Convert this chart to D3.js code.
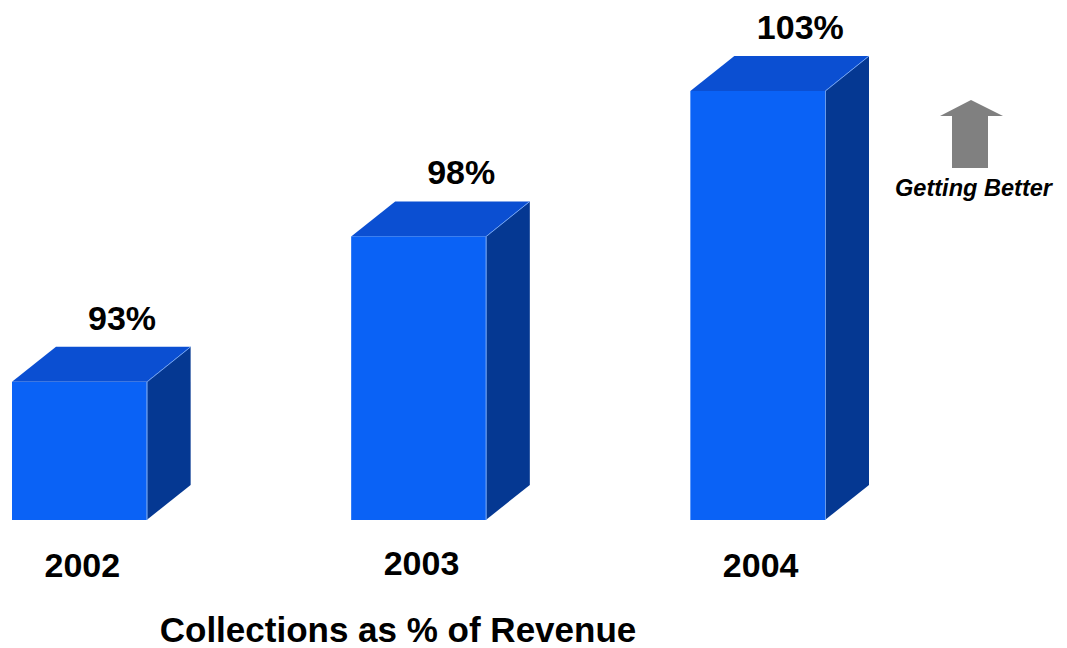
<!DOCTYPE html>
<html>
<head>
<meta charset="utf-8">
<script src="https://cdn.jsdelivr.net/npm/d3@7/dist/d3.min.js"></script>
<style>
  html, body { margin: 0; padding: 0; background: #ffffff; }
  svg { display: block; }
</style>
</head>
<body>
<svg id="chart" width="1067" height="648"></svg>
<script>
// Collections as a share of revenue, by year
const years = ["2002", "2003", "2004"];
const collectionPct = [93, 98, 103];
const valueLabels = ["93%", "98%", "103%"];
const chartTitle = "Collections as % of Revenue";
const trendNote = "Getting Better";

const svg = d3.select("#chart");
const font = "'Liberation Sans', Arial, sans-serif";

// Scales
const x = d3.scaleBand().domain(years).range([12, 825]).paddingInner(0.603);
const y = d3.scaleLinear().domain([88.25, 103]).range([520, 91]);
const base = y.range()[0];

// 3D extrusion depth
const dx = 44, dy = 35;

const colors = { front: "#0a62f6", top: "#0b4fd2", side: "#053892", edge: "#7fb2ff" };

const rows = years.map((yr, i) => ({ year: yr, value: collectionPct[i], label: valueLabels[i] }));

const bars = svg.append("g").selectAll("g").data(rows).join("g");

// side face
bars.append("path")
  .attr("fill", colors.side)
  .attr("d", d => {
    const x1 = x(d.year) + x.bandwidth(), t = y(d.value);
    return `M${x1},${t} L${x1 + dx},${t - dy} L${x1 + dx},${base - dy} L${x1},${base} Z`;
  });

// top face
bars.append("path")
  .attr("fill", colors.top)
  .attr("d", d => {
    const x0 = x(d.year), x1 = x0 + x.bandwidth(), t = y(d.value);
    return `M${x0},${t} L${x0 + dx},${t - dy} L${x1 + dx},${t - dy} L${x1},${t} Z`;
  });

// front face
bars.append("rect")
  .attr("fill", colors.front)
  .attr("x", d => x(d.year))
  .attr("y", d => y(d.value))
  .attr("width", x.bandwidth())
  .attr("height", d => base - y(d.value));

// highlight edges
bars.append("path")
  .attr("fill", "none")
  .attr("stroke", colors.edge)
  .attr("stroke-width", 1)
  .attr("opacity", 0.8)
  .attr("d", d => {
    const x1 = x(d.year) + x.bandwidth(), t = y(d.value);
    return `M${x1 + 0.5},${base} L${x1 + 0.5},${t} L${x1 + dx},${t - dy}`;
  });

// value labels above each bar
bars.append("text")
  .attr("x", d => x(d.year) + 110)
  .attr("y", d => y(d.value) - 52)
  .attr("text-anchor", "middle")
  .attr("font-family", font)
  .attr("font-weight", "bold")
  .attr("font-size", 34)
  .attr("fill", "#000")
  .text(d => d.label);

// category labels
const yearBaselines = [577, 575, 577];
svg.append("g").selectAll("text").data(years).join("text")
  .attr("x", d => x(d) + x.bandwidth() / 2 + 3)
  .attr("y", (d, i) => yearBaselines[i])
  .attr("text-anchor", "middle")
  .attr("font-family", font)
  .attr("font-weight", "bold")
  .attr("font-size", 34)
  .attr("fill", "#000")
  .text(d => d);

// chart title
svg.append("text")
  .attr("x", 398)
  .attr("y", 642)
  .attr("text-anchor", "middle")
  .attr("font-family", font)
  .attr("font-weight", "bold")
  .attr("font-size", 35)
  .attr("fill", "#000")
  .text(chartTitle);

// trend arrow
const arrow = [[971, 100], [1003, 116], [988, 116], [988, 168], [952, 168], [952, 116], [940, 116]];
svg.append("path")
  .attr("d", d3.line()(arrow) + "Z")
  .attr("fill", "#808080");

svg.append("text")
  .attr("x", 895)
  .attr("y", 196)
  .attr("font-family", font)
  .attr("font-weight", "bold")
  .attr("font-style", "italic")
  .attr("font-size", 23)
  .attr("textLength", 157)
  .attr("lengthAdjust", "spacingAndGlyphs")
  .attr("fill", "#000")
  .text(trendNote);
</script>
</body>
</html>
